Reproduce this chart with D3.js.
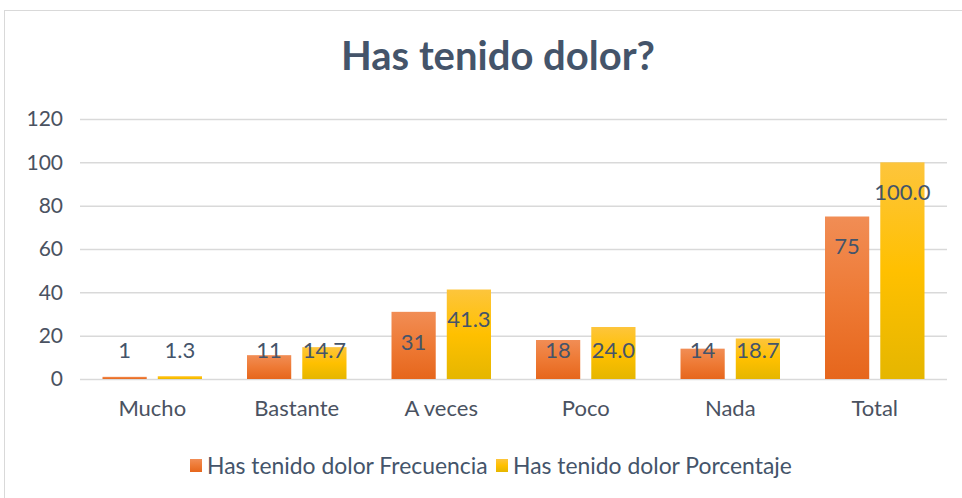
<!DOCTYPE html>
<html><head><meta charset="utf-8">
<script src="https://cdn.jsdelivr.net/npm/d3@7"></script>
<style>html,body{margin:0;padding:0;background:#fff;}svg{display:block;font-family:Lato,"Open Sans",sans-serif;}</style>
</head><body>
<script>
const categories = ["Mucho","Bastante","A veces","Poco","Nada","Total"];
const frecuencia = [1,11,31,18,14,75];
const porcentaje = [1.3,14.7,41.3,24.0,18.7,100.0];
const yTicks = [0,20,40,60,80,100,120];
const seriesNames = ["Has tenido dolor Frecuencia","Has tenido dolor Porcentaje"];
const title = "Has tenido dolor?";

const W = 962, H = 498;
const svg = d3.select("body").append("svg").attr("width", W).attr("height", H);
const defs = svg.append("defs");
function grad(id, c0, c1, c2){
  const g = defs.append("linearGradient").attr("id", id).attr("x1",0).attr("y1",0).attr("x2",0).attr("y2",1);
  g.append("stop").attr("offset","0%").attr("stop-color",c0);
  g.append("stop").attr("offset","50%").attr("stop-color",c1);
  g.append("stop").attr("offset","100%").attr("stop-color",c2);
}
grad("gO","#f18d55","#ee7a35","#e6661c");
grad("gY","#fdc53c","#ffc000","#e5b600");

svg.append("rect").attr("x",4.5).attr("y",10.5).attr("width",W+10).attr("height",H).attr("fill","#fff").attr("stroke","#d9d9d9");

const x = d3.scaleBand().domain(categories).range([80,947]).paddingInner(0).paddingOuter(0);
const y = d3.scaleLinear().domain([0,120]).range([379,119]);
const inner = d3.scaleBand().domain([0,1]).range([22.5, x.bandwidth()-22.5]).paddingInner(0.2);

svg.append("text").attr("x",498).attr("y",70).attr("text-anchor","middle")
  .attr("font-size",40).attr("font-weight","bold").attr("fill","#44546a").text(title);

const gy = svg.append("g").attr("transform","translate(80,0)")
  .call(d3.axisLeft(y).tickValues(yTicks).tickSize(-867).tickPadding(17));
gy.select(".domain").remove();
gy.selectAll(".tick line").attr("stroke","#d9d9d9").attr("stroke-width",1.5);
gy.selectAll(".tick text").attr("font-size",21).attr("fill","#4a5261").attr("font-family","Lato,sans-serif");

const gx = svg.append("g").attr("transform","translate(0,379)")
  .call(d3.axisBottom(x).tickSize(0).tickPadding(21));
gx.select(".domain").remove();
gx.selectAll(".tick text").attr("font-size",22).attr("fill","#4a5261").attr("font-family","Lato,sans-serif");

const series = [frecuencia, porcentaje];
const fills = ["url(#gO)","url(#gY)"];
series.forEach((vals, si) => {
  const g = svg.append("g");
  g.selectAll("rect").data(categories).join("rect")
    .attr("x", (c) => x(c) + inner(si))
    .attr("width", inner.bandwidth())
    .attr("y", (c,i) => y(vals[i]))
    .attr("height", (c,i) => y(0) - y(vals[i]))
    .attr("fill", fills[si]);
  g.selectAll("text").data(categories).join("text")
    .attr("x", (c) => x(c) + inner(si) + inner.bandwidth()/2)
    .attr("y", (c,i) => Math.min(y(vals[i]) + 30, y(0) - 29))
    .attr("dy","0.35em")
    .attr("text-anchor","middle").attr("font-size",22).attr("fill","#44546a")
    .text((c,i) => si === 0 ? d3.format("d")(vals[i]) : d3.format(".1f")(vals[i]));
});

const leg = svg.append("g");
const legX = [190, 496];
seriesNames.forEach((n, i) => {
  leg.append("rect").attr("x",legX[i]).attr("y",459).attr("width",12).attr("height",13).attr("fill",fills[i]);
  leg.append("text").attr("x",legX[i]+17).attr("y",466).attr("dy","0.35em").attr("font-size",22.9).attr("fill","#44546a").text(n);
});
</script>
</body></html>
